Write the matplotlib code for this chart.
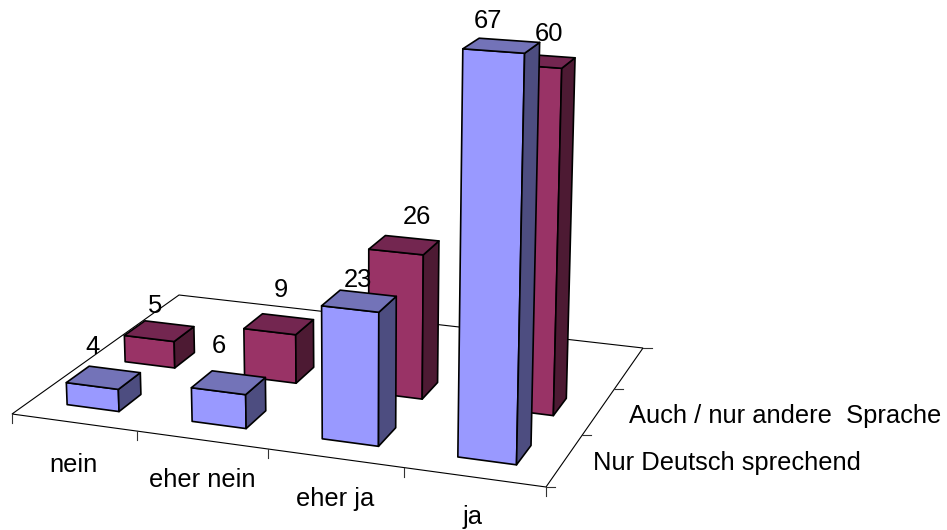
import matplotlib
matplotlib.use("Agg")
import matplotlib.pyplot as plt
from matplotlib.patches import Polygon
import numpy as np

plt.rcParams['font.family'] = ['Liberation Sans', 'DejaVu Sans']

categories = ['nein', 'eher nein', 'eher ja', 'ja']
series_names = ['Nur Deutsch sprechend', 'Auch / nur andere  Sprache']
deutsch = [4, 6, 23, 67]
andere = [5, 9, 26, 60]

front_colors = ['#9999ff', '#993366']
top_colors = ['#7373b8', '#732650']
side_colors = ['#4d4d80', '#4d1a33']
bar_w = 0.42
bar_d = 0.38
n_rows = 3

# floor corners on the page: front left, front right, back right, back left
corners = [(12, 414), (546, 487), (643, 348), (179, 295)]
floor_uv = [(0, 0), (4, 0), (4, n_rows), (0, n_rows)]
vanish = (361, 8400)  # verticals meet far below the chart
shrink = -0.0489 / 67

# label offsets from centre of bar top, pixels
label_off = [[(-11, -31), (-10, -37), (-1, -21), (-14, -25)],
             [(-4, -25), (2, -34), (13, -28), (9, -27)]]
cat_pos = [(73, 465), (202, 480), (335, 499), (473, 517)]
series_pos = [(593, 463), (629, 416)]


def floor_matrix():
    A = []
    b = []
    for (u, v), (x, y) in zip(floor_uv, corners):
        A.append([u, v, 1, 0, 0, 0, -u * x, -v * x])
        A.append([0, 0, 0, u, v, 1, -u * y, -v * y])
        b += [x, y]
    h = np.linalg.solve(np.array(A, float), np.array(b, float))
    return np.append(h, 1).reshape(3, 3)


H = floor_matrix()
w_ref = H[2] @ np.array([3.29, 0.3, 1])
lam = shrink * w_ref


def proj(u, v, z=0):
    p = H @ np.array([u, v, 1]) + z * lam * np.array([vanish[0], vanish[1], 1])
    return p[0] / p[2], p[1] / p[2]


fig = plt.figure(figsize=(9.47, 5.30), dpi=100)
ax = fig.add_axes([0, 0, 1, 1])
ax.set_xlim(0, 947)
ax.set_ylim(530, 0)
ax.axis('off')

# floor outline and ticks
outline = [proj(u, v) for u, v in floor_uv]
ax.add_patch(Polygon(outline, closed=True, fill=False, edgecolor='black', lw=0.8))
for i in range(5):
    x, y = proj(i, 0)
    ax.plot([x, x], [y, y + 9], color='#333333', lw=0.8)
for j in range(n_rows + 1):
    x, y = proj(4, j)
    ax.plot([x, x + 9], [y, y], color='#333333', lw=0.8)


def draw_box(i, row, h, s):
    u0, u1 = i + 0.5 - bar_w / 2, i + 0.5 + bar_w / 2
    v0, v1 = row + 0.5 - bar_d / 2, row + 0.5 + bar_d / 2
    faces = [([(u0, v0, 0), (u1, v0, 0), (u1, v0, h), (u0, v0, h)], front_colors[s]),
             ([(u1, v0, 0), (u1, v1, 0), (u1, v1, h), (u1, v0, h)], side_colors[s]),
             ([(u0, v0, h), (u1, v0, h), (u1, v1, h), (u0, v1, h)], top_colors[s])]
    for pts, col in faces:
        ax.add_patch(Polygon([proj(*p) for p in pts], closed=True, facecolor=col,
                             edgecolor='black', lw=1.2, joinstyle='round'))


all_vals = [deutsch, andere]
for s in [1, 0]:
    for i, v in enumerate(all_vals[s]):
        draw_box(i, s, v, s)

for s in [1, 0]:
    for i, v in enumerate(all_vals[s]):
        x, y = proj(i + 0.5, s + 0.5, v)
        dx, dy = label_off[s][i]
        ax.text(x + dx, y + dy, str(v), fontsize=18.4, ha='center', va='center', color='black')

for c, (x, y) in zip(categories, cat_pos):
    ax.text(x, y, c, fontsize=18.4, ha='center', va='center', color='black')
for c, (x, y) in zip(series_names, series_pos):
    ax.text(x, y, c, fontsize=18.4, ha='left', va='center', color='black')

fig.savefig('out.png', dpi=100)
